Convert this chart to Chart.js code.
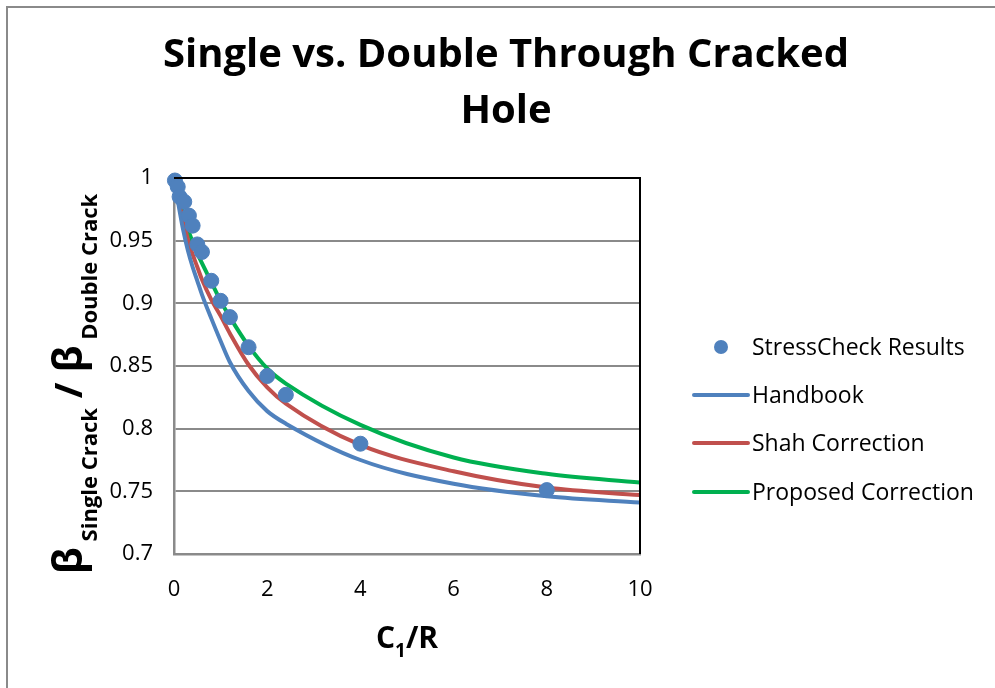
<!DOCTYPE html>
<html>
<head>
<meta charset="utf-8">
<title>Single vs. Double Through Cracked Hole</title>
<script src="https://cdn.jsdelivr.net/npm/chart.js@4.4.1/dist/chart.umd.min.js"></script>
<style>
  html, body { margin: 0; padding: 0; background: #fff; }
  #chart { display: block; }
</style>
</head>
<body>
<canvas id="chart" width="995" height="688"></canvas>
<script>
// StressCheck results (points)
const scX = [0.02, 0.08, 0.12, 0.22, 0.32, 0.4, 0.5, 0.6, 0.8, 1.0, 1.2, 1.6, 2.0, 2.4, 4.0, 8.0];
const scY = [0.998, 0.993, 0.985, 0.981, 0.970, 0.962, 0.947, 0.941, 0.918, 0.902, 0.889, 0.865, 0.842, 0.827, 0.788, 0.751];

// curves, sampled at the same x
const curveX = [0, 0.1, 0.2, 0.3, 0.4, 0.5, 0.6, 0.8, 1, 1.2, 1.6, 2, 2.4, 4, 6, 8, 10];
const handbook = [1.0, 0.978, 0.958, 0.942, 0.929, 0.918, 0.907, 0.888, 0.870, 0.853, 0.830, 0.814, 0.804, 0.775, 0.756, 0.746, 0.741];
const shah = [1.0, 0.982, 0.966, 0.951, 0.939, 0.929, 0.919, 0.903, 0.890, 0.876, 0.851, 0.833, 0.820, 0.787, 0.766, 0.753, 0.747];
const proposed = [1.0, 0.984, 0.971, 0.959, 0.949, 0.940, 0.932, 0.917, 0.902, 0.889, 0.866, 0.848, 0.836, 0.803, 0.777, 0.764, 0.757];

const xTicks = [0, 2, 4, 6, 8, 10];
const yTicks = [0.7, 0.75, 0.8, 0.85, 0.9, 0.95, 1];
const yTickLabels = ['0.7', '0.75', '0.8', '0.85', '0.9', '0.95', '1'];

const FONT = "'Open Sans', 'Liberation Sans', sans-serif";

function toPoints(xs, ys) {
  return xs.map((x, i) => ({ x, y: ys[i] }));
}

// titles, frame and legend drawn by hand
const decorations = {
  id: 'decorations',
  beforeDraw(chart) {
    const ctx = chart.ctx;
    ctx.save();
    ctx.fillStyle = '#fff';
    ctx.fillRect(0, 0, chart.width, chart.height);
    ctx.strokeStyle = '#8a8a8a';
    ctx.lineWidth = 2;
    ctx.beginPath();
    ctx.moveTo(7, chart.height);
    ctx.lineTo(7, 7);
    ctx.lineTo(chart.width, 7);
    ctx.stroke();
    ctx.restore();
  },
  afterDraw(chart) {
    const ctx = chart.ctx;
    const area = chart.chartArea;
    ctx.save();

    // plot area border top and right
    ctx.strokeStyle = '#000';
    ctx.lineWidth = 2;
    ctx.beginPath();
    ctx.moveTo(area.left, area.top);
    ctx.lineTo(area.right, area.top);
    ctx.lineTo(area.right, area.bottom);
    ctx.stroke();

    // main title
    ctx.fillStyle = '#000';
    ctx.textAlign = 'center';
    ctx.textBaseline = 'alphabetic';
    ctx.font = 'bold 40px ' + FONT;
    ctx.fillText('Single vs. Double Through Cracked', 506, 67);
    ctx.fillText('Hole', 506, 123);

    // x axis title C1/R
    const cx = (area.left + area.right) / 2;
    const big = 'bold 30px ' + FONT, small = 'bold 19px ' + FONT;
    ctx.textAlign = 'left';
    ctx.font = big;
    const wC = ctx.measureText('C').width, wRest = ctx.measureText('/R').width;
    ctx.font = small;
    const w1 = ctx.measureText('1').width;
    let x = cx - (wC + w1 + wRest) / 2;
    ctx.font = big; ctx.fillText('C', x, 648); x += wC;
    ctx.font = small; ctx.fillText('1', x, 657); x += w1;
    ctx.font = big; ctx.fillText('/R', x, 648);

    // y axis title, rotated
    const parts = [
      { t: '\u03B2', f: 'bold 41px ' + FONT, dy: 0 },
      { t: ' Single Crack', f: 'bold 22px ' + FONT, dy: 15 },
      { t: ' / ', f: 'bold 38px ' + FONT, dy: 0 },
      { t: '\u03B2', f: 'bold 41px ' + FONT, dy: 0 },
      { t: ' Double Crack', f: 'bold 22px ' + FONT, dy: 15 }
    ];
    let total = 0;
    parts.forEach(p => { ctx.font = p.f; p.w = ctx.measureText(p.t).width; total += p.w; });
    ctx.translate(82, 384);
    ctx.rotate(-Math.PI / 2);
    let px = -total / 2;
    parts.forEach(p => {
      ctx.font = p.f;
      ctx.fillText(p.t, px, p.dy);
      px += p.w;
    });
    ctx.setTransform(1, 0, 0, 1, 0, 0);

    // legend
    const rows = [347, 395, 443, 492];
    ctx.font = '23px ' + FONT;
    ctx.textBaseline = 'middle';
    chart.data.datasets.forEach((ds, i) => {
      const y = rows[i];
      if (ds.showLine) {
        ctx.strokeStyle = ds.borderColor;
        ctx.lineWidth = 4;
        ctx.lineCap = 'round';
        ctx.beginPath();
        ctx.moveTo(694, y);
        ctx.lineTo(748, y);
        ctx.stroke();
      } else {
        ctx.fillStyle = ds.backgroundColor;
        ctx.beginPath();
        ctx.arc(721, y, 7, 0, Math.PI * 2);
        ctx.fill();
      }
      ctx.fillStyle = '#000';
      ctx.fillText(ds.label, 752, y + 1);
    });
    ctx.restore();
  }
};

new Chart(document.getElementById('chart'), {
  type: 'scatter',
  data: {
    datasets: [
      {
        label: 'StressCheck Results',
        data: toPoints(scX, scY),
        backgroundColor: '#4f81bd',
        borderColor: '#4f81bd',
        pointRadius: 7.5,
        showLine: false,
        clip: false
      },
      {
        label: 'Handbook',
        data: toPoints(curveX, handbook),
        borderColor: '#4f81bd',
        borderWidth: 4,
        pointRadius: 0,
        showLine: true,
        cubicInterpolationMode: 'monotone'
      },
      {
        label: 'Shah Correction',
        data: toPoints(curveX, shah),
        borderColor: '#c0504d',
        borderWidth: 4,
        pointRadius: 0,
        showLine: true,
        cubicInterpolationMode: 'monotone'
      },
      {
        label: 'Proposed Correction',
        data: toPoints(curveX, proposed),
        borderColor: '#00b050',
        borderWidth: 4,
        pointRadius: 0,
        showLine: true,
        cubicInterpolationMode: 'monotone'
      }
    ]
  },
  options: {
    responsive: false,
    animation: false,
    layout: { padding: { left: 0, top: 178, right: 355, bottom: 0 } },
    plugins: {
      legend: { display: false },
      tooltip: { enabled: false }
    },
    scales: {
      x: {
        type: 'linear',
        min: 0,
        max: 10,
        afterBuildTicks: s => { s.ticks = xTicks.map(v => ({ value: v })); },
        afterFit: s => { s.height = 134; },
        grid: { display: false, drawTicks: false },
        border: { color: '#8a8a8a', width: 2.5 },
        ticks: { color: '#000', padding: 23, font: { family: FONT, size: 22 } }
      },
      y: {
        type: 'linear',
        min: 0.7,
        max: 1,
        afterBuildTicks: s => { s.ticks = yTicks.map(v => ({ value: v })); },
        afterFit: s => { s.width = 174; },
        grid: { color: '#8a8a8a', lineWidth: 2, drawTicks: false },
        border: { color: '#8a8a8a', width: 2.5 },
        ticks: {
          color: '#000',
          padding: 21,
          font: { family: FONT, size: 22 },
          callback: (v, i) => yTickLabels[i]
        }
      }
    }
  },
  plugins: [decorations]
});
</script>
</body>
</html>
